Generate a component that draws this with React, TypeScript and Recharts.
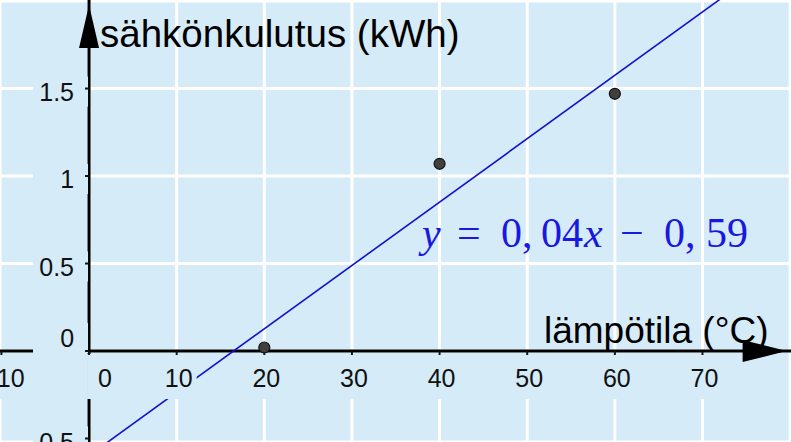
import { CartesianGrid, Customized, ReferenceDot, ReferenceLine, Scatter, ScatterChart, XAxis, YAxis } from 'recharts'

// Mittaukset: lämpötila (°C) ja sähkönkulutus (kWh)
const temperatures = [20, 40, 60]
const consumption = [0.02, 1.07, 1.47]

// Ruudukko ja akselien numerot
const xTicks = [-10, 0, 10, 20, 30, 40, 50, 60, 70, 80]
const yTicks = [-0.5, 0, 0.5, 1, 1.5, 2]
const xTickLabels = ['−10', '0', '10', '20', '30', '40', '50', '60', '70']
const yTickLabels = ['−0.5', '0', '0.5', '1', '1.5']

// Sovitettu suora, päätepisteet kuvasta luettuna
const fitX = [-10, 80]
const fitY = [-0.96, 2.3]

const points = temperatures.map((t, i) => ({ x: t, y: consumption[i] }))

const W = 791
const H = 442
const bg = '#D5EBF7'
const sans = '"Liberation Sans", Arial, sans-serif'

const xTickShape = (label: string, value: number) => (p: any) => {
  const dx = value === 0 ? 16 : 2
  return (
    <g>
      <rect x={p.cx - 18 + dx} y={p.cy + 3} width={36} height={45} fill={bg} />
      <line x1={p.cx} x2={p.cx} y1={p.cy} y2={p.cy + 4} stroke="#111" strokeWidth={2} />
      <text x={p.cx + dx} y={p.cy + 36} textAnchor="middle" fontFamily={sans} fontSize={25} fill="#111">
        {label}
      </text>
    </g>
  )
}

const yTickShape = (label: string, value: number) => (p: any) => {
  const dy = value === 0 ? -4 : 12
  return (
    <g>
      <rect x={33} y={p.cy + dy - 24} width={p.cx - 34} height={30} fill={bg} />
      <line x1={p.cx - 4} x2={p.cx} y1={p.cy} y2={p.cy} stroke="#111" strokeWidth={2} />
      <text x={p.cx - 15} y={p.cy + dy} textAnchor="end" fontFamily={sans} fontSize={25} fill="#111">
        {label}
      </text>
    </g>
  )
}

const upArrow = (p: any) => (
  <polygon points={`${p.cx},${p.cy} ${p.cx - 10},${p.cy + 43} ${p.cx + 10},${p.cy + 43}`} fill="#000" />
)

const rightArrow = (p: any) => (
  <polygon points={`${p.cx},${p.cy} ${p.cx - 44},${p.cy - 11} ${p.cx - 44},${p.cy + 11}`} fill="#000" />
)

const Titles = () => (
  <g>
    <text x={100} y={47} fontFamily={sans} fontSize={38.5} fill="#000">
      sähkönkulutus (kWh)
    </text>
    <text x={544} y={343} fontFamily={sans} fontSize={37} fill="#000">
      lämpötila (°C)
    </text>
    <text y={247} fontFamily='"Liberation Serif", "Times New Roman", serif' fontSize={42} fill="#1818E0">
      <tspan x={422} fontStyle="italic">y</tspan>
      <tspan x={457}>=</tspan>
      <tspan x={501}>0,</tspan>
      <tspan x={541}>04</tspan>
      <tspan x={584} fontStyle="italic">x</tspan>
      <tspan x={620}>−</tspan>
      <tspan x={664}>0,</tspan>
      <tspan x={706}>59</tspan>
    </text>
  </g>
)

export default function App() {
  return (
    <div style={{ position: 'absolute', left: 0, top: 0, width: W, height: H, background: bg }}>
      <ScatterChart width={W} height={H} margin={{ top: 0, right: 0, bottom: 0, left: 0 }}>
        <CartesianGrid stroke="#FFFFFF" strokeWidth={3} />
        <XAxis type="number" dataKey="x" domain={[-10.16, 80.1]} ticks={xTicks} allowDataOverflow hide />
        <YAxis type="number" dataKey="y" domain={[-0.52, 2.006]} ticks={yTicks} allowDataOverflow hide />

        {xTickLabels.map((label, i) => (
          <ReferenceDot key={`xt-${i}`} x={xTicks[i]} y={0} r={0} shape={xTickShape(label, xTicks[i])} />
        ))}
        {yTickLabels.map((label, i) => (
          <ReferenceDot key={`yt-${i}`} x={0} y={yTicks[i]} r={0} shape={yTickShape(label, yTicks[i])} />
        ))}

        <ReferenceLine x={0} stroke="#000" strokeWidth={3} />
        <ReferenceLine y={0} stroke="#000" strokeWidth={3} />
        <ReferenceDot x={0} y={1.977} r={0} shape={upArrow} />
        <ReferenceDot x={79.6} y={0} r={0} shape={rightArrow} />

        <Customized component={Titles} />

        <ReferenceLine
          segment={[
            { x: fitX[0], y: fitY[0] },
            { x: fitX[1], y: fitY[1] },
          ]}
          stroke="#1212CC"
          strokeWidth={1.6}
          ifOverflow="hidden"
        />

        <Scatter
          data={points}
          fill="#3F3F3F"
          stroke="#111"
          strokeWidth={1.2}
          shape={(p: any) => <circle cx={p.cx} cy={p.cy} r={5.5} fill="#404040" stroke="#111" strokeWidth={1.2} />}
          isAnimationActive={false}
        />
      </ScatterChart>
    </div>
  )
}
